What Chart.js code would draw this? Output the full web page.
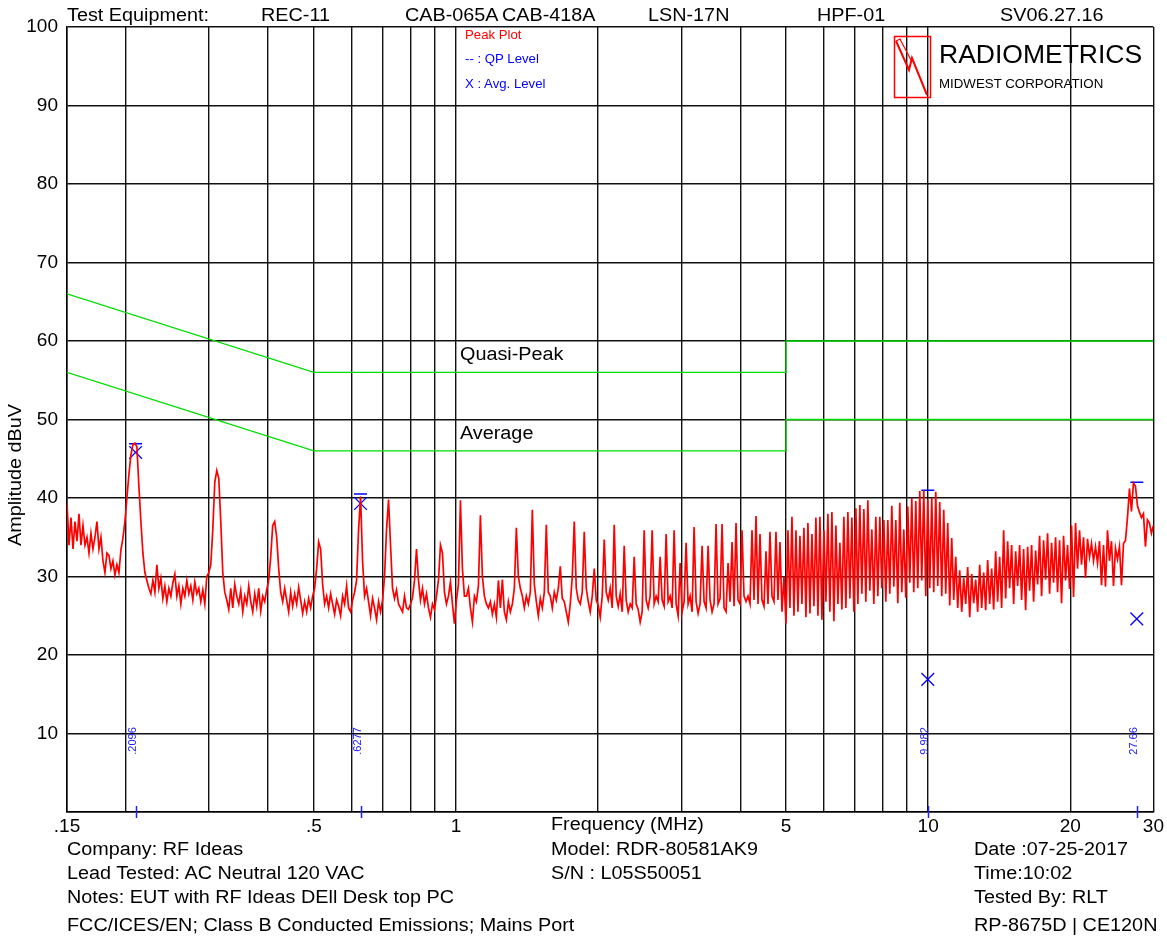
<!DOCTYPE html>
<html>
<head>
<meta charset="utf-8">
<script src="https://cdn.jsdelivr.net/npm/chart.js@4.4.1/dist/chart.umd.min.js"></script>
<style>
  body { margin: 0; background: #fff; }
  #wrap { position: relative; width: 1167px; height: 939px; background: #fff; overflow: hidden; }
  #chart { position: absolute; left: 0; top: 0; }
  .t { position: absolute; font-family: "Liberation Sans", Arial, sans-serif; font-size: 18px; line-height: 1;
       white-space: nowrap; color: #000; transform-origin: left top; transform: scaleX(1.1); }
  .s { font-size: 12px; }
</style>
</head>
<body>
<div id="wrap">
  <canvas id="chart" width="1167" height="939"></canvas>

  <!-- header -->
  <div class="t" style="left:67px;top:6px">Test Equipment:</div>
  <div class="t" style="left:261px;top:6px">REC-11</div>
  <div class="t" style="left:405px;top:6px">CAB-065A</div>
  <div class="t" style="left:502px;top:6px">CAB-418A</div>
  <div class="t" style="left:648px;top:6px">LSN-17N</div>
  <div class="t" style="left:817px;top:6px">HPF-01</div>
  <div class="t" style="left:1000px;top:6px">SV06.27.16</div>

  <!-- legend -->
  <div class="t s" style="left:465px;top:29px;color:#ff0000">Peak Plot</div>
  <div class="t s" style="left:465px;top:53px;color:#0000ff">-- : QP Level</div>
  <div class="t s" style="left:465px;top:78px;color:#0000ff">X : Avg. Level</div>

  <!-- logo -->
  <svg style="position:absolute;left:0;top:0" width="1167" height="120">
    <rect x="894.5" y="36.5" width="36" height="61" fill="none" stroke="#ff0000" stroke-width="1.5"/>
    <path d="M896 41 L909 70 L912 58 L927 95" fill="none" stroke="#ff0000" stroke-width="2"/>
    <path d="M896 41 L900 39 L912 62" fill="none" stroke="#ff0000" stroke-width="1.2"/>
  </svg>
  <div class="t" style="left:939px;top:41px;font-size:26.5px;transform:none">RADIOMETRICS</div>
  <div class="t" style="left:939px;top:77px;font-size:13.3px;transform:none">MIDWEST CORPORATION</div>

  <!-- limit labels -->
  <div class="t" style="left:460px;top:345px">Quasi-Peak</div>
  <div class="t" style="left:460px;top:424px">Average</div>

  <!-- axis title -->
  <div class="t" style="left:15px;top:475px;transform-origin:center center;transform:translate(-50%,-50%) rotate(-90deg) scaleX(1.1)">Amplitude dBuV</div>
  <div class="t" style="left:551px;top:815px">Frequency (MHz)</div>

  <!-- footer -->
  <div class="t" style="left:67px;top:840px">Company: RF Ideas</div>
  <div class="t" style="left:67px;top:864px">Lead Tested: AC Neutral 120 VAC</div>
  <div class="t" style="left:67px;top:888px">Notes: EUT with RF Ideas DEll Desk top PC</div>
  <div class="t" style="left:67px;top:916px">FCC/ICES/EN; Class B Conducted Emissions; Mains Port</div>
  <div class="t" style="left:551px;top:840px">Model: RDR-80581AK9</div>
  <div class="t" style="left:551px;top:864px">S/N : L05S50051</div>
  <div class="t" style="left:974px;top:840px">Date :07-25-2017</div>
  <div class="t" style="left:974px;top:864px">Time:10:02</div>
  <div class="t" style="left:974px;top:888px">Tested By: RLT</div>
  <div class="t" style="left:974px;top:916px">RP-8675D | CE120N</div>
</div>

<script>
"use strict";

// receiver sweep: log spaced from start to stop, one reading per point
const sweepStartMHz = 0.15;
const sweepStopMHz = 30;

// peak detector readings (dBuV), in sweep order
const peakLevel = [
  39.4, 34, 37.5, 33.5, 37, 34.5, 38, 34, 36.5, 34,
  35, 33, 35.5, 33.5, 35, 37, 33.5, 35, 32, 30.5,
  33, 32.7, 31, 32, 30.2, 31.5, 30.5, 33.4, 34.9, 37,
  40, 43, 45.5, 46.8, 47, 46.5, 41.5, 37, 33, 30.5,
  29.5, 28.5, 27.8, 29.5, 28, 31.5, 28.5, 29.8, 27.2, 28.8,
  26.8, 28.5, 27.5, 29.2, 30.3, 27.5, 28.8, 26.5, 28.5, 27.5,
  29.5, 27.8, 28.8, 27, 29.3, 27.8, 28.5, 26.8, 28.3, 26.5,
  30, 30.5, 31.5, 36, 42, 43.5, 42.5, 37, 30.5, 28,
  27, 25.8, 28.5, 26, 29, 27.5, 26.5, 28.2, 25.5, 27.5,
  26.5, 28.8, 26.8, 25.5, 27.8, 26.2, 28.5, 25.6, 27.5, 26.8,
  28.3, 29.5, 32.5, 36.5, 37, 35, 31, 28, 26.8, 28.5,
  27, 25.5, 28, 26.2, 27.8, 26.5, 28.6, 27, 25.3, 26.8,
  25.5, 27.2, 26, 27.5, 28.5, 31, 34.4, 33.5, 29, 26.5,
  27.5, 26, 27.8, 26.5, 25.2, 27, 26.2, 25, 27.5, 26.5,
  28.8, 26, 25.5, 27, 28, 29.5, 36, 40.2, 32, 27.5,
  28.5, 26.8, 25, 27.2, 26, 24.5, 26.8, 25.5, 27, 30,
  36, 39.8, 34, 28.5, 27.2, 28.3, 26.5, 26, 25.5, 27.5,
  26, 25.8, 26.5, 27.3, 29.5, 33.5, 29.5, 27, 28.5, 26.5,
  27.8, 26, 24.8, 26.5, 25.8, 27.5, 29.5, 34, 33, 28,
  26.5, 27.5, 29.3, 26.5, 24, 27, 29, 39.7, 31, 27.5,
  27.5, 28.5, 26, 24.2, 27.5, 26.8, 28.8, 37.8, 30, 27.5,
  26.5, 26, 26.8, 25.2, 26.5, 24.8, 29.5, 26, 29.6, 25.5,
  24.5, 26.8, 25.5, 26.5, 28.5, 36.2, 30, 28.5, 27.5, 26,
  27.5, 26.5, 28, 38.5, 29, 26.8, 25, 27.2, 26, 28,
  36.6, 28, 27.5, 26, 28, 27, 28.5, 31.3, 27.2, 26.8,
  25.5, 24.2, 26.5, 30, 37, 28.5, 27, 26.5, 28, 35.7,
  28.5, 26.8, 25.5, 27.5, 31, 27, 26.3, 24.8, 27.5, 34.7,
  28, 27, 28.5, 26, 36.6, 27.5, 26.2, 27.8, 25.5, 33.9,
  27, 25.5, 26.5, 26, 32.5, 26.5, 25.8, 24.2, 25.5, 35.9,
  27, 26, 27.5, 35.9, 26.5, 27.5, 26.8, 32.5, 27, 26.2,
  35.4, 26.8, 27.5, 26, 35.9, 26.5, 25, 31.7, 25.5, 26.8,
  34.3, 26.5, 27.5, 25.5, 36.3, 26.8, 25.3, 26.5, 33.9, 26.8,
  26, 33.9, 27, 25.5, 26.5, 36.7, 26.5, 27.2, 36.7, 26,
  25.5, 31.7, 26.8, 34.4, 26.2, 36.8, 27, 26.5, 35.9, 27.5,
  26.8, 27.5, 26.5, 35.9, 27, 37.7, 26.5, 35.4, 27, 26.2,
  33.2, 26.5, 35.7, 27.5, 26.8, 35.7, 27, 34.4, 25.5, 30,
  24, 35.9, 26, 37.6, 25, 35.9, 25.5, 35.2, 26.5, 36.2,
  24.8, 36.8, 25.3, 35.4, 26.2, 37.5, 25, 37.6, 24.5, 35.9,
  26.8, 38, 25.5, 38.2, 24.3, 36.5, 26.5, 34.3, 25.8, 37.6,
  26, 38.2, 27.2, 37.5, 25.5, 38.7, 26.5, 39.1, 27.8, 38.6,
  26.8, 39.7, 28.2, 36, 26.5, 37.6, 27.5, 37.6, 28.5, 37.2,
  26.8, 37.2, 27.8, 39, 28.7, 37.2, 26.6, 39.4, 28, 36,
  27.3, 38.9, 29.2, 40, 28, 39.6, 28.5, 40.9, 29.5, 41,
  27.5, 39.8, 28.5, 40, 28, 40.8, 28.8, 39.5, 27.5, 38.5,
  27.8, 36.8, 26.3, 34.9, 27, 32.5, 26, 30.8, 25.5, 29.8,
  26.5, 31.2, 24.8, 30.3, 26.6, 29.6, 25.5, 31.5, 26, 30.5,
  25.7, 32.1, 26.5, 31, 25.8, 33.2, 26.8, 32.5, 26, 35.9,
  27.2, 34.5, 28.5, 34, 26.5, 33.2, 28.8, 34, 27, 33.5,
  25.7, 33.8, 28.2, 34, 26.8, 33.3, 29, 35.2, 27.5, 34.6,
  29.6, 35.5, 27.8, 34.3, 29.2, 35, 28, 34.6, 26.6, 35.2,
  29.5, 34, 28.4, 36.5, 27.4, 36.8, 31, 35.9, 31.5, 35,
  29.8, 34.8, 32.5, 34.2, 32, 33.8, 31.7, 34.5, 28.9, 34,
  28.7, 35.9, 32, 34.5, 28.8, 33.6, 32.2, 33.8, 28.9, 34.2,
  34.6, 37.5, 41.2, 38.3, 41.9, 41.5, 39, 38.2, 37.5, 38,
  33.8, 37.2, 36.8, 35.5, 36.5
];

// FCC / EN Class B mains limits
const limitFreq = [0.15, 0.5, 5, 5, 30];
const qpLimit = [66, 56, 56, 60, 60];
const avgLimit = [56, 46, 46, 50, 50];

// final measurements
const markerFreq = [0.2096, 0.6277, 9.982, 27.66];
const markerLabels = [".2096", ".6277", "9.982", "27.66"];
const qpLevel = [46.9, 40.5, 41.0, 42.0];
const avgLevel = [45.8, 39.3, 16.9, 24.6];

// axes
const gridFreqs = [0.15, 0.2, 0.3, 0.4, 0.5, 0.6, 0.7, 0.8, 0.9, 1, 2, 3, 4, 5, 6, 7, 8, 9, 10, 20, 30];
const freqTickFreqs = [0.15, 0.5, 1, 5, 10, 20, 30];
const freqTickLabels = [".15", ".5", "1", "5", "10", "20", "30"];

const FONT = "'Liberation Sans', Arial, sans-serif";

const n = peakLevel.length;
const peakData = peakLevel.map((v, i) => ({
  x: sweepStartMHz * Math.pow(sweepStopMHz / sweepStartMHz, i / (n - 1)),
  y: v
}));

function pairs(xs, ys) {
  return xs.map((x, i) => ({x: x, y: ys[i]}));
}

const markerAnnotations = {
  id: "markerAnnotations",
  afterDatasetsDraw(chart) {
    const ctx = chart.ctx;
    const x = chart.scales.x;
    const y = chart.scales.y;
    ctx.save();
    ctx.strokeStyle = "#2020ff";
    ctx.fillStyle = "#2020ff";
    ctx.lineWidth = 1.5;
    ctx.font = "11px " + FONT;
    ctx.textAlign = "left";
    ctx.textBaseline = "alphabetic";
    markerFreq.forEach((f, i) => {
      const px = Math.round(x.getPixelForValue(f)) + 0.5;
      const base = y.getPixelForValue(0);
      ctx.beginPath();
      ctx.moveTo(px, base - 6);
      ctx.lineTo(px, base + 6);
      ctx.stroke();

      ctx.save();
      ctx.translate(px - 1, y.getPixelForValue(7.3));
      ctx.rotate(-Math.PI / 2);
      ctx.fillText(markerLabels[i], 0, 0);
      ctx.restore();
    });
    ctx.restore();
  }
};

new Chart(document.getElementById("chart"), {
  type: "line",
  data: {
    datasets: [
      {
        label: "Avg limit",
        data: pairs(limitFreq, avgLimit),
        borderColor: "#00dd00",
        borderWidth: 1.3,
        pointRadius: 0
      },
      {
        label: "QP limit",
        data: pairs(limitFreq, qpLimit),
        borderColor: "#00dd00",
        borderWidth: 1.3,
        pointRadius: 0
      },
      {
        label: "Peak Plot",
        data: peakData,
        borderColor: "#ff0000",
        borderWidth: 1.7,
        pointRadius: 0
      },
      {
        label: "QP Level",
        data: pairs(markerFreq, qpLevel),
        showLine: false,
        pointStyle: "line",
        pointRadius: 6.5,
        borderColor: "#0000ff",
        borderWidth: 1.5
      },
      {
        label: "Avg. Level",
        data: pairs(markerFreq, avgLevel),
        showLine: false,
        pointStyle: "crossRot",
        pointRadius: 9,
        borderColor: "#0000ff",
        borderWidth: 1.3
      }
    ]
  },
  options: {
    responsive: false,
    animation: false,
    devicePixelRatio: 1,
    layout: {padding: {left: 0, top: 27, right: 12, bottom: 0}},
    plugins: {legend: {display: false}, tooltip: {enabled: false}},
    elements: {line: {tension: 0}},
    scales: {
      x: {
        type: "logarithmic",
        min: sweepStartMHz,
        max: sweepStopMHz,
        afterFit: s => { s.height = 127; },
        afterBuildTicks: s => { s.ticks = gridFreqs.map(v => ({value: v})); },
        grid: {color: "#111", lineWidth: 1.4, drawTicks: false},
        border: {color: "#000", width: 1.5},
        ticks: {
          autoSkip: false,
          maxRotation: 0,
          padding: 3,
          color: "#000",
          font: {family: FONT, size: 19},
          callback: v => {
            const k = freqTickFreqs.findIndex(f => Math.abs(f - v) < 1e-6);
            return k < 0 ? "" : freqTickLabels[k];
          }
        }
      },
      y: {
        min: 0,
        max: 100,
        afterFit: s => { s.width = 67; },
        grid: {color: "#111", lineWidth: 1.4, drawTicks: false},
        border: {color: "#000", width: 1.5},
        ticks: {
          stepSize: 10,
          padding: 9,
          color: "#000",
          font: {family: FONT, size: 19},
          callback: v => v === 0 ? "" : v
        }
      }
    }
  },
  plugins: [markerAnnotations]
});
</script>
</body>
</html>
